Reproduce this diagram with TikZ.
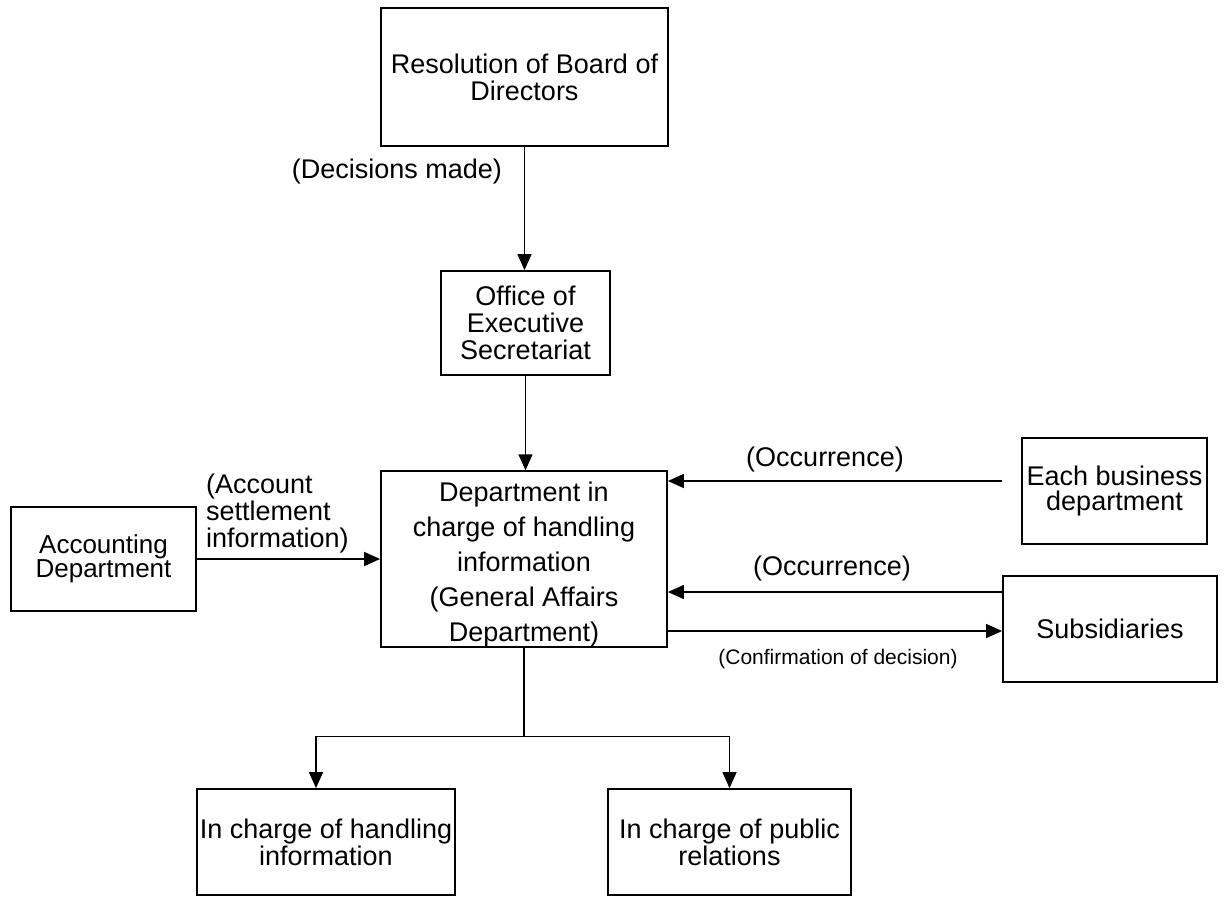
\documentclass[tikz,border=0pt]{standalone}
\usepackage{fontspec}
\setmainfont{Liberation Sans}
\usetikzlibrary{arrows.meta}
\begin{document}
\begin{tikzpicture}[x=1pt,y=-1pt,
 box/.style={draw,line width=1.8pt,inner sep=0pt,align=center,font=\fontsize{27}{27}\selectfont},
 conn/.style={line width=1.4pt},
 arr/.style={conn,-{Triangle[length=16pt,width=14pt]}},
 lbl/.style={inner sep=0pt,align=center,font=\fontsize{27}{27}\selectfont}]
\useasboundingbox[fill=white] (0,0) rectangle (1224,900);

\node[box,minimum width=287pt,minimum height=138pt] (b1) at (524.5,77) {Resolution of Board of\\Directors};
\node[box,minimum width=169pt,minimum height=104pt] (b2) at (525.5,323) {Office of\\Executive\\Secretariat};
\node[box,minimum width=286pt,minimum height=172pt,font=\fontsize{27}{35}\selectfont] (b3) at (524,559) {\rule{0pt}{30pt}Department in\\charge of handling\\information\\(General Affairs\\Department)};
\node[box,minimum width=185pt,minimum height=104pt,font=\fontsize{26}{23}\selectfont] (acc) at (103.5,559) {Accounting\\Department};
\node[box,minimum width=185pt,minimum height=106pt,font=\fontsize{27}{25}\selectfont] (eb) at (1114.5,491) {Each business\\department};
\node[box,minimum width=214pt,minimum height=106pt] (sub) at (1110,629) {Subsidiaries};
\node[box,minimum width=258pt,minimum height=106pt] (b7) at (326,842) {In charge of handling\\information};
\node[box,minimum width=243pt,minimum height=106pt] (b8) at (729.5,842) {In charge of public\\relations};

\node[lbl] (dm) at (397,172) {(Decisions made)};
\node[lbl,align=left,anchor=west] (asi) at (206,514) {(Account\\settlement\\information)};
\node[lbl] (oc1) at (825,460) {(Occurrence)};
\node[lbl] (oc2) at (832,569) {(Occurrence)};
\node[lbl,font=\fontsize{21}{23}\selectfont] (cd) at (838,659) {(Confirmation of decision)};

\draw[arr] (b1.south) -- (b1.south |- b2.north);
\draw[arr] (b2.south) -- (b2.south |- b3.north);
\draw[arr] (acc.east) -- (acc.east -| b3.west);
\coordinate (ebs) at ([xshift=-19pt,yshift=10pt]eb.west);
\draw[arr] (ebs) -- (ebs -| b3.east);
\coordinate (s1) at ([yshift=37pt]sub.west);
\draw[arr] (s1) -- (s1 -| b3.east);
\coordinate (s2) at ([yshift=-2pt]sub.west);
\draw[arr] (s2 -| b3.east) -- (s2);
\coordinate (j) at ([yshift=-89pt]b3.south);
\draw[conn] (b3.south) -- (j);
\draw[arr] (j) -| ([xshift=-10pt]b7.north);
\draw[arr] (j) -| (b8.north);
\end{tikzpicture}
\end{document}
